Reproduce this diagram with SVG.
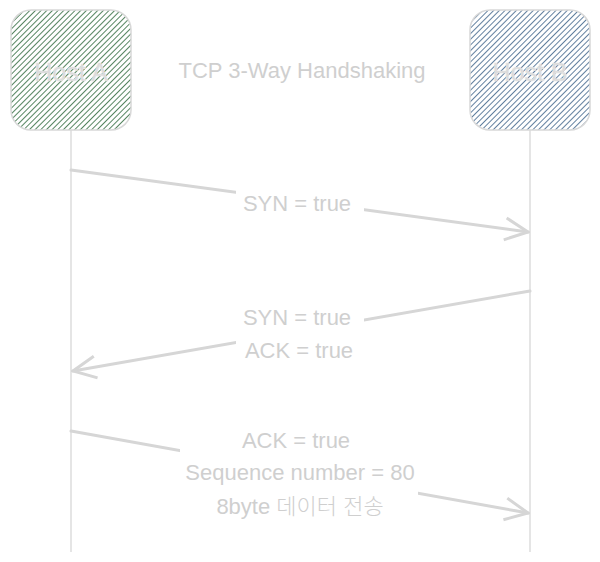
<svg xmlns="http://www.w3.org/2000/svg" width="600" height="562" viewBox="0 0 600 562">
<style>
.t{font-family:"Liberation Sans","Noto Sans CJK KR",sans-serif;font-size:22px;font-weight:300;fill:#cfcfcf;text-anchor:middle}
.h{font-size:25px;fill:#dadada;stroke:#e6e6e6;stroke-width:0.6}
.life{stroke:#dcdcdc;stroke-width:1.5;fill:none}
.arr{stroke:#d6d6d6;stroke-width:3;fill:none;stroke-linecap:round}
.box{stroke:#d8d8d8;stroke-width:1.5}
.bg{fill:#fff}
</style>
<defs>
<pattern id="hg" width="4" height="4" patternUnits="userSpaceOnUse" patternTransform="rotate(45)">
<rect width="4" height="4" fill="#fff"/>
<line x1="0" y1="0" x2="0" y2="4" stroke="#2b6638" stroke-width="1.6"/>
</pattern>
<pattern id="hb" width="4" height="4" patternUnits="userSpaceOnUse" patternTransform="rotate(45)">
<rect width="4" height="4" fill="#fff"/>
<line x1="0" y1="0" x2="0" y2="4" stroke="#3a5f86" stroke-width="1.6"/>
</pattern>
<marker id="ahb" markerWidth="28" markerHeight="28" refX="26" refY="14" orient="auto" markerUnits="userSpaceOnUse" viewBox="0 0 28 28">
<path d="M3,3 L26,14 L3,25" fill="none" stroke="#d6d6d6" stroke-width="3"/>
</marker>
</defs>
<g id="lifelines">
<line class="life" x1="71" y1="130" x2="71" y2="552"/>
<line class="life" x1="530" y1="130" x2="530" y2="552"/>
</g>
<g id="hostA">
<rect class="box" x="11" y="10" width="120" height="120" rx="20" fill="url(#hg)"/>
<text class="t h" x="71" y="81">Host A</text>
</g>
<g id="hostB">
<rect class="box" x="470" y="10" width="120" height="120" rx="20" fill="url(#hb)"/>
<text class="t h" x="530" y="81">Host B</text>
</g>
<g id="title">
<text class="t" x="302" y="78">TCP 3-Way Handshaking</text>
</g>
<g id="connectors">
<line class="arr" x1="71" y1="170" x2="528" y2="232" marker-end="url(#ahb)"/>
<line class="arr" x1="530" y1="291" x2="73" y2="371" marker-end="url(#ahb)"/>
<line class="arr" x1="71" y1="431" x2="528" y2="513" marker-end="url(#ahb)"/>
</g>
<g id="labels">
<rect class="bg" x="236" y="190" width="128" height="26"/>
<text class="t" x="297" y="211">SYN = true</text>
<rect class="bg" x="236" y="302" width="128" height="64"/>
<text class="t" x="297" y="325">SYN = true</text>
<text class="t" x="299" y="358">ACK = true</text>
<rect class="bg" x="180" y="426" width="238" height="94"/>
<text class="t" x="296" y="448">ACK = true</text>
<text class="t" x="300" y="480">Sequence number = 80</text>
<text class="t" x="300" y="514">8byte 데이터 전송</text>
</g>
</svg>
